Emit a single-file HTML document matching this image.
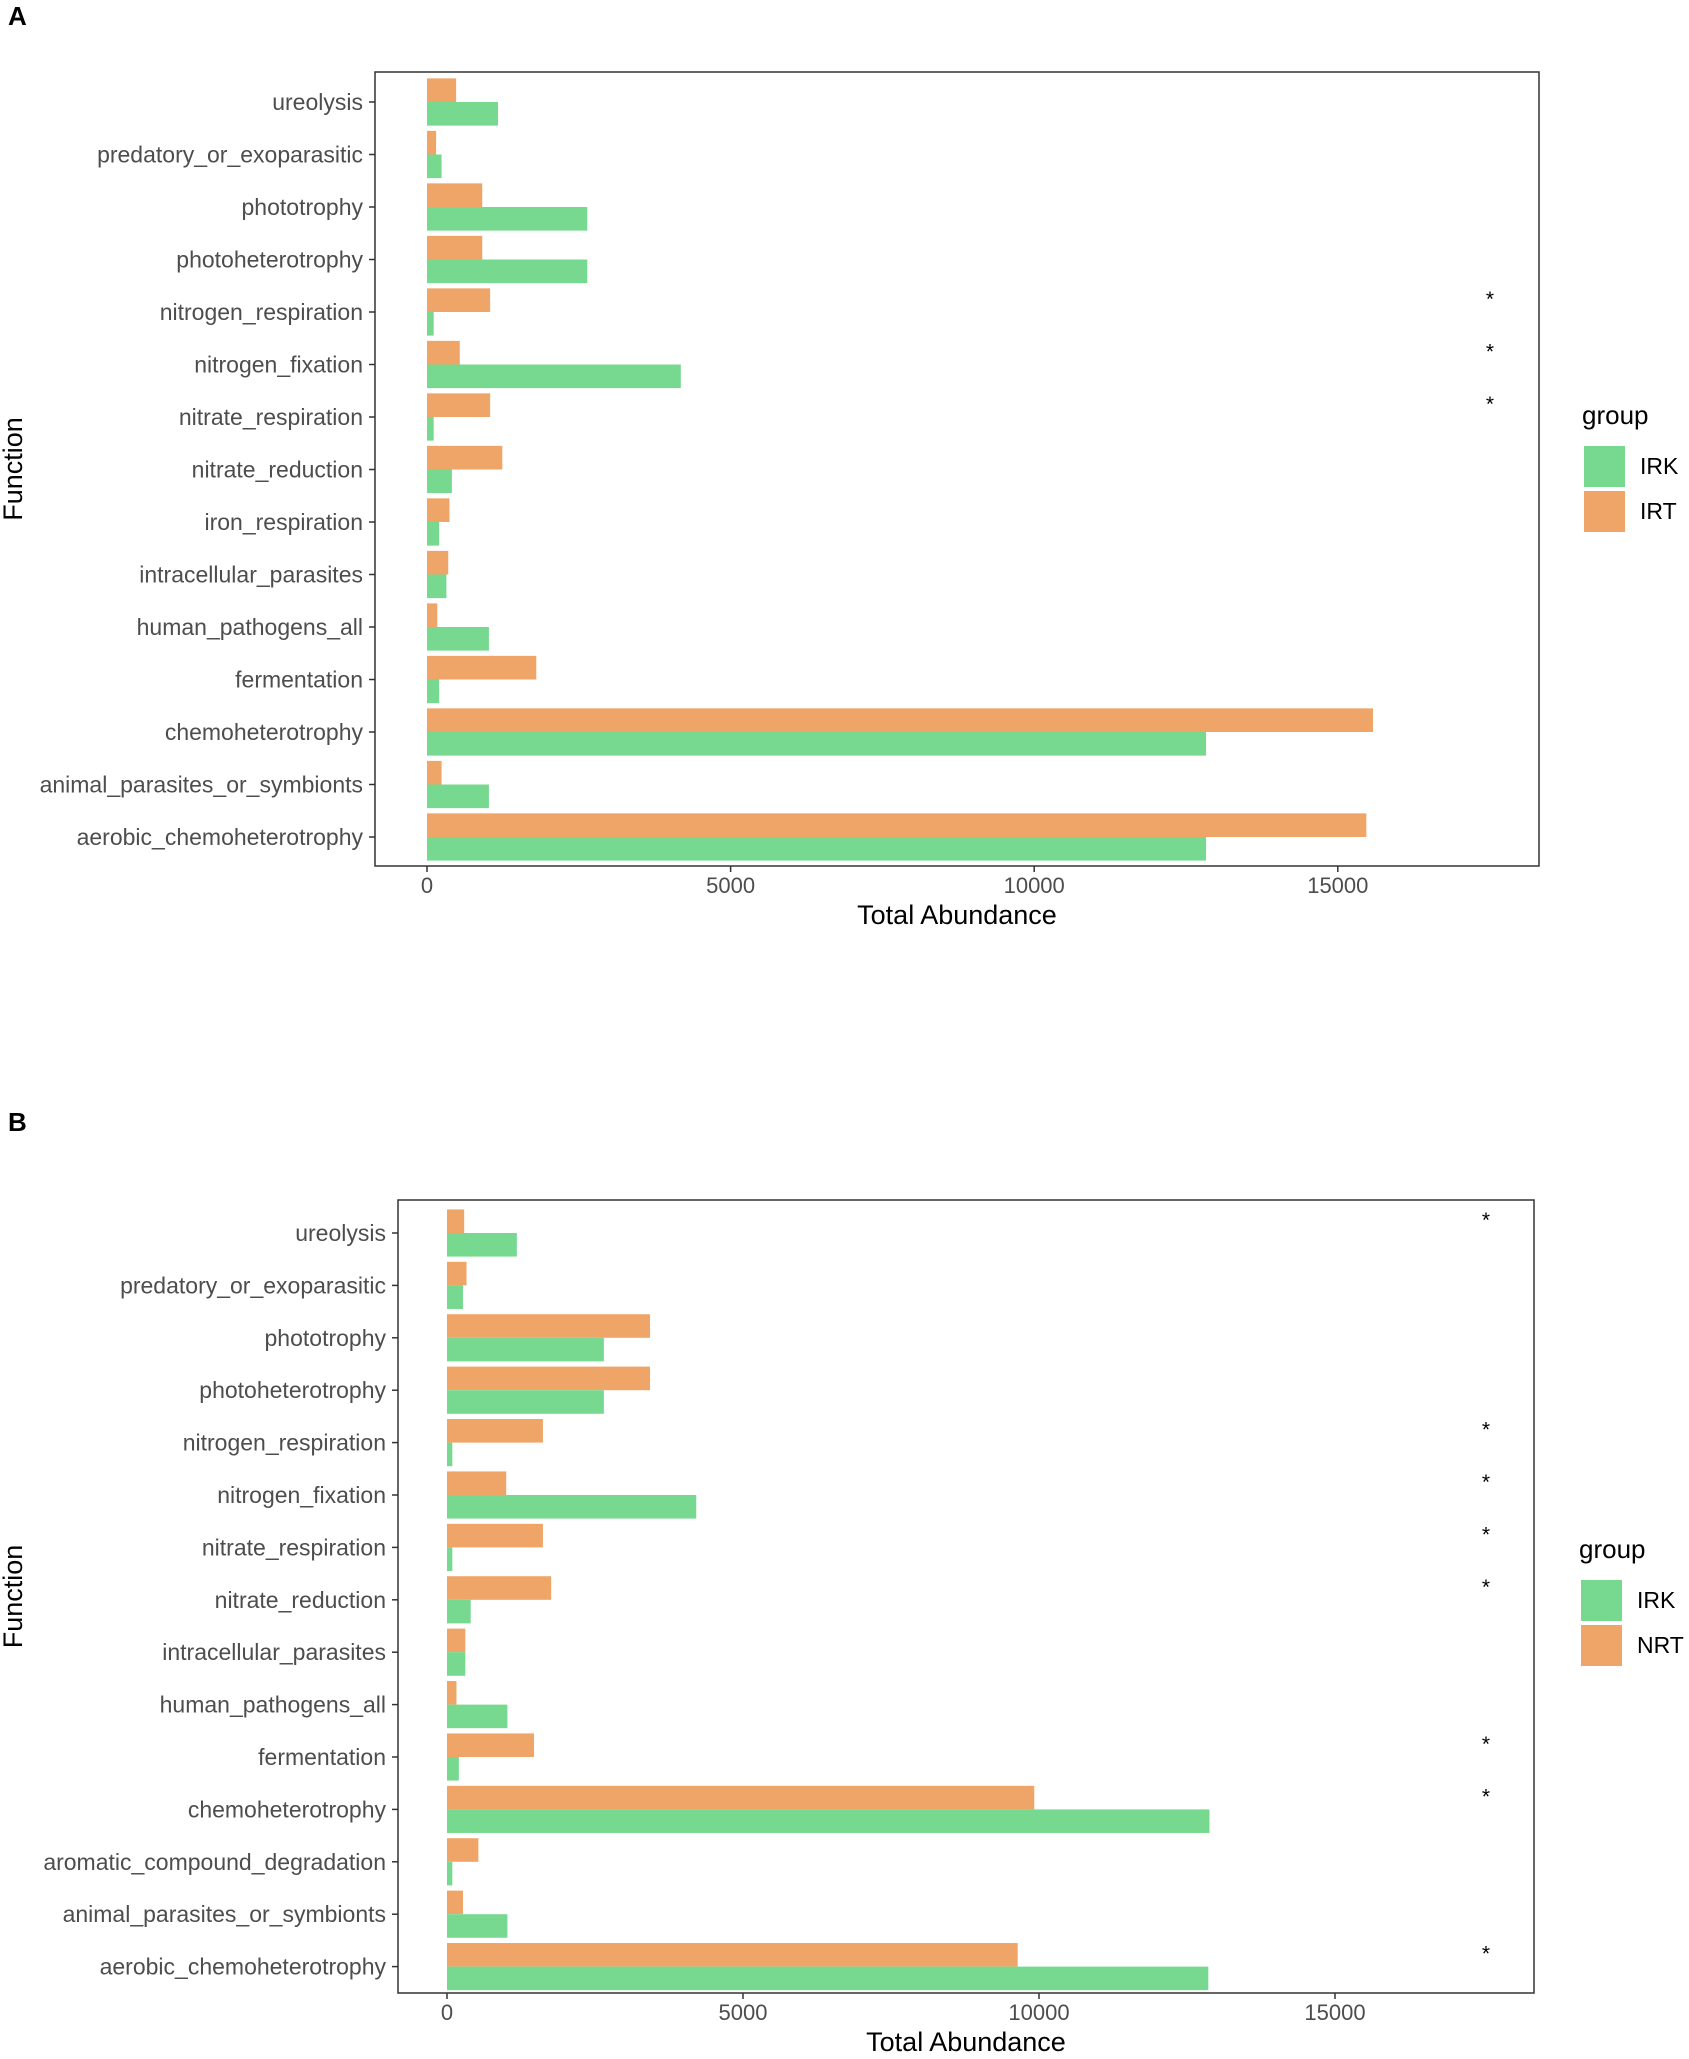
<!DOCTYPE html>
<html><head><meta charset="utf-8"><style>
body{margin:0;background:#fff;}
svg{display:block;font-family:"Liberation Sans",Arial,sans-serif;}
</style></head><body>
<svg id="c" width="1689" height="2059" viewBox="0 0 1689 2059"></svg>
<script>
const catsA=["ureolysis","predatory_or_exoparasitic","phototrophy","photoheterotrophy","nitrogen_respiration","nitrogen_fixation","nitrate_respiration","nitrate_reduction","iron_respiration","intracellular_parasites","human_pathogens_all","fermentation","chemoheterotrophy","animal_parasites_or_symbionts","aerobic_chemoheterotrophy"];
const irkA=[1170,240,2640,2640,110,4180,110,410,200,320,1020,200,12830,1020,12830];
const irtA=[480,150,910,910,1040,540,1040,1240,370,350,170,1800,15580,240,15470];
const starA=[0,0,0,0,1,1,1,0,0,0,0,0,0,0,0];
const catsB=["ureolysis","predatory_or_exoparasitic","phototrophy","photoheterotrophy","nitrogen_respiration","nitrogen_fixation","nitrate_respiration","nitrate_reduction","intracellular_parasites","human_pathogens_all","fermentation","chemoheterotrophy","aromatic_compound_degradation","animal_parasites_or_symbionts","aerobic_chemoheterotrophy"];
const irkB=[1180,270,2650,2650,90,4210,90,400,310,1020,200,12880,90,1020,12860];
const nrtB=[290,330,3430,3430,1620,1000,1620,1760,310,160,1470,9920,530,270,9640];
const starB=[1,0,0,0,1,1,1,1,0,0,1,1,0,0,1];
const ticks=[0,5000,10000,15000];
const GREEN="#77d98f",ORANGE="#eea567";
const svg=document.getElementById('c');
const NS="http://www.w3.org/2000/svg";
function mk(t,a,txt){const e=document.createElementNS(NS,t);for(const k in a)e.setAttribute(k,a[k]);if(txt!=null)e.textContent=txt;svg.appendChild(e);return e;}
function panel(p){
  const xs=v=>p.x0+v*p.per/5000;
  const ys=i=>p.y0+i*p.step;
  const bh=p.step*0.45;
  let e=mk('text',{x:p.lx,y:p.ly,'font-size':26,'font-weight':'bold'},p.letter);
  
  
  e=mk('rect',{x:p.bx1,y:p.by1,width:p.bx2-p.bx1,height:p.by2-p.by1,fill:'none',stroke:'#333','stroke-width':1.5});
  
  
  p.cats.forEach((c,i)=>{
    const y=ys(i);
    let r=mk('rect',{x:xs(0),y:y-bh,width:xs(p.b[i])-xs(0),height:bh,fill:ORANGE});
    
    
    r=mk('rect',{x:xs(0),y:y,width:xs(p.a[i])-xs(0),height:bh,fill:GREEN});
    
    
    mk('line',{x1:p.bx1-6,x2:p.bx1,y1:y,y2:y,stroke:'#333','stroke-width':1.5});
    const t=mk('text',{x:p.bx1-12,y:y+8,'font-size':23,fill:'#4d4d4d','text-anchor':'end'},c);
    
    
    if(p.s[i]){const s=mk('text',{x:p.starX,y:y-6,'font-size':21,'text-anchor':'middle'},'*');
      
      }
  });
  ticks.forEach(v=>{
    mk('line',{x1:xs(v),x2:xs(v),y1:p.by2,y2:p.by2+6,stroke:'#333','stroke-width':1.5});
    const t=mk('text',{x:xs(v),y:p.by2+27,'font-size':22,fill:'#4d4d4d','text-anchor':'middle'},v);
    
    
  });
  e=mk('text',{x:(p.bx1+p.bx2)/2,y:p.by2+58,'font-size':27,'text-anchor':'middle'},'Total Abundance');
  
  
  const fy=(p.by1+p.by2)/2;
  e=mk('text',{x:22,y:fy,'font-size':27,'text-anchor':'middle',transform:'rotate(-90 22 '+fy+')'},'Function');
  
  
  e=mk('text',{x:p.legX,y:p.legY,'font-size':26},'group');
  
  
  [[GREEN,'IRK'],[ORANGE,p.g2]].forEach((g,k)=>{
    const y=p.legY+22+k*45;
    const r=mk('rect',{x:p.legX+2,y:y,width:41,height:41,fill:g[0]});
    
    
    const t=mk('text',{x:p.legX+58,y:y+28,'font-size':23},g[1]);
    
    
  });
}
panel({letter:'A',lx:8,ly:25,bx1:375,bx2:1539,by1:72,by2:866,x0:427,per:303.6,y0:102,step:52.5,cats:catsA,a:irkA,b:irtA,s:starA,g2:'IRT',starX:1490,legX:1582,legY:424});
panel({letter:'B',lx:8,ly:1131,bx1:398,bx2:1534,by1:1200,by2:1993,x0:447,per:296,y0:1233,step:52.4,cats:catsB,a:irkB,b:nrtB,s:starB,g2:'NRT',starX:1486,legX:1579,legY:1558});
</script>
</body></html>
